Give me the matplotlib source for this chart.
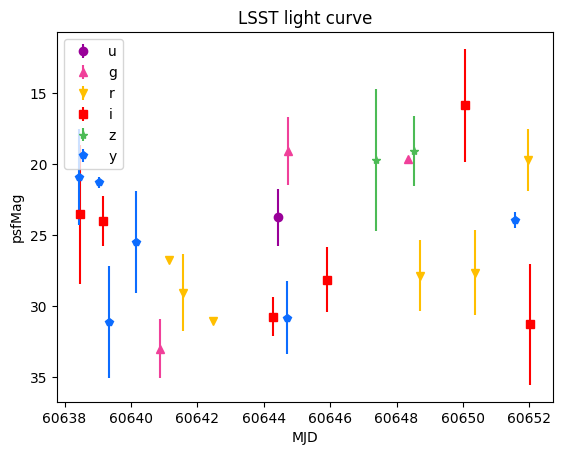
import matplotlib
matplotlib.use('Agg')
import matplotlib.pyplot as plt

# Light curve points per band: MJD, psfMag, psfMag error
bands = ['u', 'g', 'r', 'i', 'z', 'y']
markers = {'u': 'o', 'g': '^', 'r': 'v', 'i': 's', 'z': '*', 'y': 'p'}
colors = {'u': '#990099', 'g': '#f0409a', 'r': '#ffbf00',
          'i': '#ff0000', 'z': '#4cbb55', 'y': '#0c6cff'}

mjd_u = [60644.44]
mag_u = [23.73]
err_u = [2.0]

mjd_g = [60640.88, 60644.74, 60648.36]
mag_g = [33.0, 19.07, 19.64]
err_g = [2.1, 2.4, 0.0]

mjd_r = [60641.16, 60641.57, 60642.46, 60648.72, 60650.37, 60651.97]
mag_r = [26.76, 29.07, 31.07, 27.87, 27.66, 19.71]
err_r = [0.0, 2.72, 0.0, 2.5, 3.0, 2.2]

mjd_i = [60638.47, 60639.17, 60644.29, 60645.92, 60650.07, 60652.03]
mag_i = [23.52, 24.01, 30.74, 28.13, 15.85, 31.28]
err_i = [4.9, 1.75, 1.38, 2.3, 3.98, 4.28]

mjd_z = [60647.39, 60648.53]
mag_z = [19.71, 19.05]
err_z = [5.03, 2.46]

mjd_y = [60638.45, 60639.05, 60639.35, 60640.14, 60644.71, 60651.58]
mag_y = [20.9, 21.28, 31.14, 25.49, 30.81, 23.94]
err_y = [3.4, 0.4, 3.95, 3.6, 2.6, 0.55]

data = {
    'u': (mjd_u, mag_u, err_u),
    'g': (mjd_g, mag_g, err_g),
    'r': (mjd_r, mag_r, err_r),
    'i': (mjd_i, mag_i, err_i),
    'z': (mjd_z, mag_z, err_z),
    'y': (mjd_y, mag_y, err_y),
}

fig, ax = plt.subplots(figsize=(6.4, 4.8), dpi=100)

for band in bands:
    x, y, e = data[band]
    ax.errorbar(x, y, yerr=e, fmt=markers[band], color=colors[band],
                label=band, linestyle='none')

ax.invert_yaxis()
ax.set_xlabel('MJD')
ax.set_ylabel('psfMag')
ax.set_title('LSST light curve')
ax.legend(loc='upper left')

fig.savefig('out.png', bbox_inches='tight')
